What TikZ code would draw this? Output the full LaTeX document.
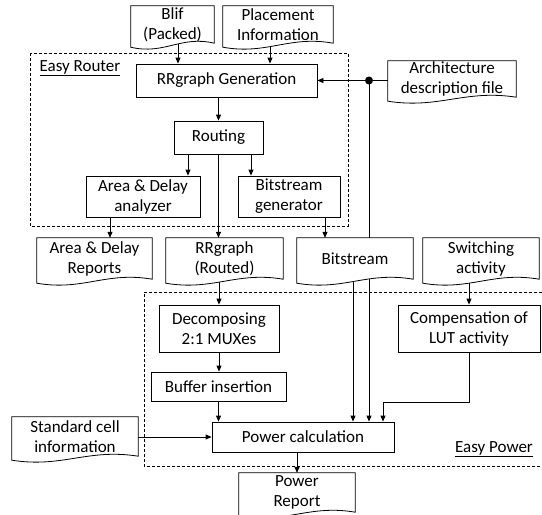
\documentclass[tikz,border=0pt]{standalone}
\usepackage{fontspec}
\setmainfont{Carlito}
\usetikzlibrary{arrows.meta,calc}
\pgfdeclarelayer{bg}
\pgfdeclarelayer{mid}
\pgfsetlayers{bg,mid,main}
\newcommand\docout[1]{\path[docline] (#1.south east) -- (#1.north east) -- (#1.north west) -- ($(#1.south west)+(0,4)$) .. controls ($(#1.south west)!0.4!(#1.south east)+(0,12)$) and ($(#1.south west)!0.6!(#1.south east)+(0,-8)$) .. (#1.south east) -- cycle;}
\tikzset{
  txt/.style={font=\fontsize{17}{20}\selectfont},
  box/.style={txt, draw, line width=0.8pt, fill=white, align=center, inner sep=0pt},
  doc/.style={txt, align=center, inner sep=0pt},
  docline/.style={draw, line width=0.8pt, fill=white},
  arr/.style={line width=0.8pt, -{Triangle[length=6pt,width=5pt]}},
  region/.style={line width=0.8pt, dash pattern=on 3pt off 2pt},
}
\begin{document}
\begin{tikzpicture}[x=1pt,y=-1pt]
\useasboundingbox (0,0) rectangle (542,515);
% regions
\draw[region] (30,53) rectangle (348,226);
\draw[region] (542,292) -- (144,292) -- (144,466) -- (542,466);
\node[txt] (erl) at (80,68) {\underline{Easy Router}};
\node[txt] (epl) at (494,449) {\underline{Easy Power}};
% boxes
\node[box, minimum width=181pt, minimum height=33pt] (gen) at (226.5,80.5) {RRgraph Generation};
\node[box, minimum width=89pt, minimum height=33pt] (routing) at (218.5,137.5) {Routing};
\node[box, minimum width=114pt, minimum height=41pt] (analyzer) at (143,196.5) {Area \& Delay\\analyzer};
\node[box, minimum width=102pt, minimum height=41pt] (bitgen) at (289,196.5) {Bitstream\\generator};
\node[box, minimum width=120pt, minimum height=47pt] (decomp) at (219,328.5) {Decomposing\\2:1 MUXes};
\node[box, minimum width=135pt, minimum height=29pt] (buffer) at (218.5,386.5) {Buffer insertion};
\node[box, minimum width=182pt, minimum height=30pt] (power) at (303,437) {Power calculation};
\node[box, minimum width=142pt, minimum height=47pt] (comp) at (469,328.5) {Compensation of\\LUT activity};
% documents
\node[doc, minimum width=83pt, minimum height=37pt] (blif) at (172.5,24.5) {Blif\\(Packed)};
\node[doc, minimum width=110pt, minimum height=37pt] (place) at (278,24.5) {Placement\\Information};
\node[doc, minimum width=128pt, minimum height=36pt] (arch) at (452,79) {Architecture\\description file};
\node[doc, minimum width=115pt, minimum height=41pt] (adrep) at (94.5,258.5) {Area \& Delay\\Reports};
\node[doc, minimum width=117pt, minimum height=41pt] (rrrout) at (224.5,258.5) {RRgraph\\(Routed)};
\node[doc, minimum width=116pt, minimum height=41pt] (bits) at (355,258.5) {Bitstream};
\node[doc, minimum width=116pt, minimum height=41pt] (sw) at (481,258.5) {Switching\\activity};
\node[doc, minimum width=126pt, minimum height=39pt] (stdcell) at (75,436.5) {Standard cell\\information};
\node[doc, minimum width=116pt, minimum height=39pt] (prep) at (297,492.5) {Power\\Report};
\begin{pgfonlayer}{mid}
\docout{blif}\docout{place}\docout{arch}\docout{adrep}\docout{rrrout}
\docout{bits}\docout{sw}\docout{stdcell}\docout{prep}
\end{pgfonlayer}
% dot
\coordinate (dot) at (369,80.5);
\fill (dot) circle (4pt);
% connectors
\begin{pgfonlayer}{bg}
\draw[arr] ([xshift=5.5pt]blif.south) -- ([xshift=5.5pt]blif.south |- gen.north);
\draw[arr] ([xshift=-8pt]place.south) -- ([xshift=-8pt]place.south |- gen.north);
\draw[arr] (routing.north |- gen.south) -- (routing.north);
\draw[arr] ([xshift=-30.5pt]routing.south) -- ([xshift=-30.5pt]routing.south |- analyzer.north);
\draw[arr] ([xshift=32.5pt]routing.south) -- ([xshift=32.5pt]routing.south |- bitgen.north);
\draw[arr] (routing.south) -- (routing.south |- rrrout.north);
\draw[arr] ([xshift=-33pt]analyzer.south) -- ([xshift=-33pt]analyzer.south |- adrep.north);
\draw[arr] ([xshift=36pt]bitgen.south) -- ([xshift=36pt]bitgen.south |- bits.north);
\draw[arr] (arch.west |- gen.east) -- (gen.east);
\draw[arr] (dot) -- (dot |- power.north);
\draw[arr] ([xshift=-2pt]bits.south) -- ([xshift=-2pt]bits.south |- power.north);
\draw[arr] (comp.north |- sw.south) -- (comp.north);
\draw[arr] (comp.south) -- ++(0,50) -| ([xshift=80pt]power.north);
\draw[arr] (decomp.north |- rrrout.south) -- (decomp.north);
\draw[arr] (decomp.south) -- (decomp.south |- buffer.north);
\draw[arr] (buffer.south) -- (buffer.south |- power.north);
\draw[arr] (stdcell.east |- power.west) -- (power.west);
\draw[arr] (power.south -| prep.north) -- (prep.north);
\end{pgfonlayer}
\end{tikzpicture}
\end{document}
